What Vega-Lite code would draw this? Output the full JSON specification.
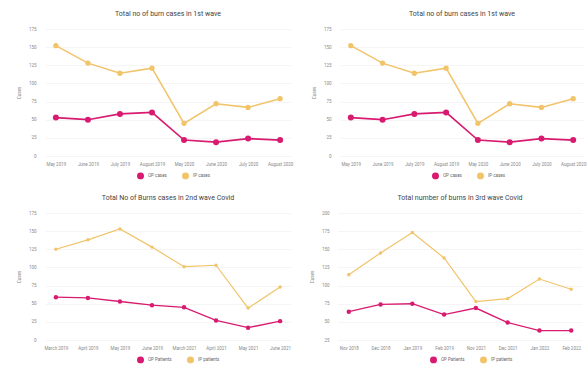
{
  "$schema": "https://vega.github.io/schema/vega-lite/v6.json",
  "background": "white",
  "padding": {"left": 16, "top": 10, "right": 2, "bottom": 2},
  "datasets": {
    "w1": [
      {"month": "May 2019", "series": "OP cases", "value": 53},
      {"month": "June 2019", "series": "OP cases", "value": 50},
      {"month": "July 2019", "series": "OP cases", "value": 58},
      {"month": "August 2019", "series": "OP cases", "value": 60},
      {"month": "May 2020", "series": "OP cases", "value": 22},
      {"month": "June 2020", "series": "OP cases", "value": 19},
      {"month": "July 2020", "series": "OP cases", "value": 24},
      {"month": "August 2020", "series": "OP cases", "value": 22},
      {"month": "May 2019", "series": "IP cases", "value": 152},
      {"month": "June 2019", "series": "IP cases", "value": 128},
      {"month": "July 2019", "series": "IP cases", "value": 114},
      {"month": "August 2019", "series": "IP cases", "value": 121},
      {"month": "May 2020", "series": "IP cases", "value": 45},
      {"month": "June 2020", "series": "IP cases", "value": 72},
      {"month": "July 2020", "series": "IP cases", "value": 67},
      {"month": "August 2020", "series": "IP cases", "value": 79}
    ],
    "w2": [
      {"month": "March 2019", "series": "OP Patients", "value": 59},
      {"month": "April 2019", "series": "OP Patients", "value": 58},
      {"month": "May 2019", "series": "OP Patients", "value": 53},
      {"month": "June 2019", "series": "OP Patients", "value": 48},
      {"month": "March 2021", "series": "OP Patients", "value": 45},
      {"month": "April 2021", "series": "OP Patients", "value": 27},
      {"month": "May 2021", "series": "OP Patients", "value": 17},
      {"month": "June 2021", "series": "OP Patients", "value": 26},
      {"month": "March 2019", "series": "IP patients", "value": 125},
      {"month": "April 2019", "series": "IP patients", "value": 138},
      {"month": "May 2019", "series": "IP patients", "value": 153},
      {"month": "June 2019", "series": "IP patients", "value": 128},
      {"month": "March 2021", "series": "IP patients", "value": 101},
      {"month": "April 2021", "series": "IP patients", "value": 103},
      {"month": "May 2021", "series": "IP patients", "value": 44},
      {"month": "June 2021", "series": "IP patients", "value": 73}
    ],
    "w3": [
      {"month": "Nov 2018", "series": "OP Patients", "value": 64},
      {"month": "Dec 2018", "series": "OP Patients", "value": 74},
      {"month": "Jan 2019", "series": "OP Patients", "value": 75},
      {"month": "Feb 2019", "series": "OP Patients", "value": 60},
      {"month": "Nov 2021", "series": "OP Patients", "value": 69},
      {"month": "Dec 2021", "series": "OP Patients", "value": 49},
      {"month": "Jan 2022", "series": "OP Patients", "value": 38},
      {"month": "Feb 2022", "series": "OP Patients", "value": 38},
      {"month": "Nov 2018", "series": "IP patients", "value": 115},
      {"month": "Dec 2018", "series": "IP patients", "value": 145},
      {"month": "Jan 2019", "series": "IP patients", "value": 173},
      {"month": "Feb 2019", "series": "IP patients", "value": 138},
      {"month": "Nov 2021", "series": "IP patients", "value": 78},
      {"month": "Dec 2021", "series": "IP patients", "value": 82},
      {"month": "Jan 2022", "series": "IP patients", "value": 109},
      {"month": "Feb 2022", "series": "IP patients", "value": 95}
    ]
  },
  "config": {
    "font": "Roboto",
    "view": {"stroke": null},
    "title": {"fontSize": 7, "fontWeight": "normal", "color": "#444444", "offset": 9, "font": "Roboto"},
    "axis": {"labelFontSize": 4.5, "labelColor": "#888", "titleFontSize": 4.5, "titleColor": "#888", "titleFontWeight": "normal", "domain": false, "ticks": false, "gridColor": "#eeeeee", "gridWidth": 0.6},
    "axisX": {"grid": false, "labelAngle": 0, "labelPadding": 5, "title": null},
    "axisY": {"labelPadding": 9, "titlePadding": 7},
    "legend": {"orient": "none", "direction": "horizontal", "legendX": 92, "legendY": 143, "title": null, "labelFontSize": 4.5, "labelColor": "#666", "symbolType": "circle", "symbolSize": 30, "columnPadding": 12}
  },
  "resolve": {"scale": {"color": "independent"}, "legend": {"color": "independent"}},
  "vconcat": [
    {
      "hconcat": [
        {
          "title": "Total no of burn cases in 1st wave",
          "width": 246, "height": 127,
          "data": {"name": "w1"},
          "encoding": {
            "x": {"field": "month", "type": "ordinal", "sort": null, "scale": {"type": "point", "padding": 0.34}},
            "y": {"field": "value", "type": "quantitative", "scale": {"domain": [0, 175]}, "axis": {"values": [0, 25, 50, 75, 100, 125, 150, 175], "title": "Cases"}},
            "color": {"field": "series", "type": "nominal", "sort": null, "scale": {"domain": ["OP cases", "IP cases"], "range": ["#d81b70", "#f1c46a"]}}
          },
          "layer": [
            {"mark": {"type": "line"}, "encoding": {"strokeWidth": {"field": "series", "type": "nominal", "scale": {"domain": ["OP cases", "IP cases"], "range": [1.7, 1.2]}, "legend": null}}},
            {"mark": {"type": "point", "filled": true, "opacity": 1}, "encoding": {"size": {"field": "series", "type": "nominal", "scale": {"domain": ["OP cases", "IP cases"], "range": [36, 12]}, "legend": null}}}
          ]
        },
        {
          "title": "Total no of burn cases in 1st wave",
          "width": 244, "height": 127,
          "data": {"name": "w1"},
          "encoding": {
            "x": {"field": "month", "type": "ordinal", "sort": null, "scale": {"type": "point", "padding": 0.34}},
            "y": {"field": "value", "type": "quantitative", "scale": {"domain": [0, 175]}, "axis": {"values": [0, 25, 50, 75, 100, 125, 150, 175], "title": "Cases"}},
            "color": {"field": "series", "type": "nominal", "sort": null, "scale": {"domain": ["OP cases", "IP cases"], "range": ["#d81b70", "#f1c46a"]}}
          },
          "layer": [
            {"mark": {"type": "line"}, "encoding": {"strokeWidth": {"field": "series", "type": "nominal", "scale": {"domain": ["OP cases", "IP cases"], "range": [1.7, 1.2]}, "legend": null}}},
            {"mark": {"type": "point", "filled": true, "opacity": 1}, "encoding": {"size": {"field": "series", "type": "nominal", "scale": {"domain": ["OP cases", "IP cases"], "range": [36, 12]}, "legend": null}}}
          ]
        }
      ],
      "spacing": 18,
      "resolve": {"scale": {"color": "independent"}, "legend": {"color": "independent"}}
    },
    {
      "hconcat": [
        {
          "title": "Total No of Burns cases in 2nd wave Covid",
          "width": 246, "height": 127,
          "data": {"name": "w2"},
          "encoding": {
            "x": {"field": "month", "type": "ordinal", "sort": null, "scale": {"type": "point", "padding": 0.34}},
            "y": {"field": "value", "type": "quantitative", "scale": {"domain": [0, 175]}, "axis": {"values": [0, 25, 50, 75, 100, 125, 150, 175], "title": "Cases"}},
            "color": {"field": "series", "type": "nominal", "sort": null, "scale": {"domain": ["OP Patients", "IP patients"], "range": ["#d81b70", "#f1c46a"]}}
          },
          "layer": [
            {"mark": {"type": "line"}, "encoding": {"strokeWidth": {"field": "series", "type": "nominal", "scale": {"domain": ["OP Patients", "IP patients"], "range": [1.7, 1.2]}, "legend": null}}},
            {"mark": {"type": "point", "filled": true, "opacity": 1}, "encoding": {"size": {"field": "series", "type": "nominal", "scale": {"domain": ["OP Patients", "IP patients"], "range": [36, 12]}, "legend": null}}}
          ]
        },
        {
          "title": "Total number of burns in 3rd wave Covid",
          "width": 244, "height": 127,
          "data": {"name": "w3"},
          "encoding": {
            "x": {"field": "month", "type": "ordinal", "sort": null, "scale": {"type": "point", "padding": 0.34}},
            "y": {"field": "value", "type": "quantitative", "scale": {"domain": [25, 200], "zero": false}, "axis": {"values": [25, 50, 75, 100, 125, 150, 175, 200], "title": "Cases"}},
            "color": {"field": "series", "type": "nominal", "sort": null, "scale": {"domain": ["OP Patients", "IP patients"], "range": ["#d81b70", "#f1c46a"]}}
          },
          "layer": [
            {"mark": {"type": "line"}, "encoding": {"strokeWidth": {"field": "series", "type": "nominal", "scale": {"domain": ["OP Patients", "IP patients"], "range": [1.7, 1.2]}, "legend": null}}},
            {"mark": {"type": "point", "filled": true, "opacity": 1}, "encoding": {"size": {"field": "series", "type": "nominal", "scale": {"domain": ["OP Patients", "IP patients"], "range": [36, 12]}, "legend": null}}}
          ]
        }
      ],
      "spacing": 18,
      "resolve": {"scale": {"color": "independent"}, "legend": {"color": "independent"}}
    }
  ],
  "spacing": 12
}
